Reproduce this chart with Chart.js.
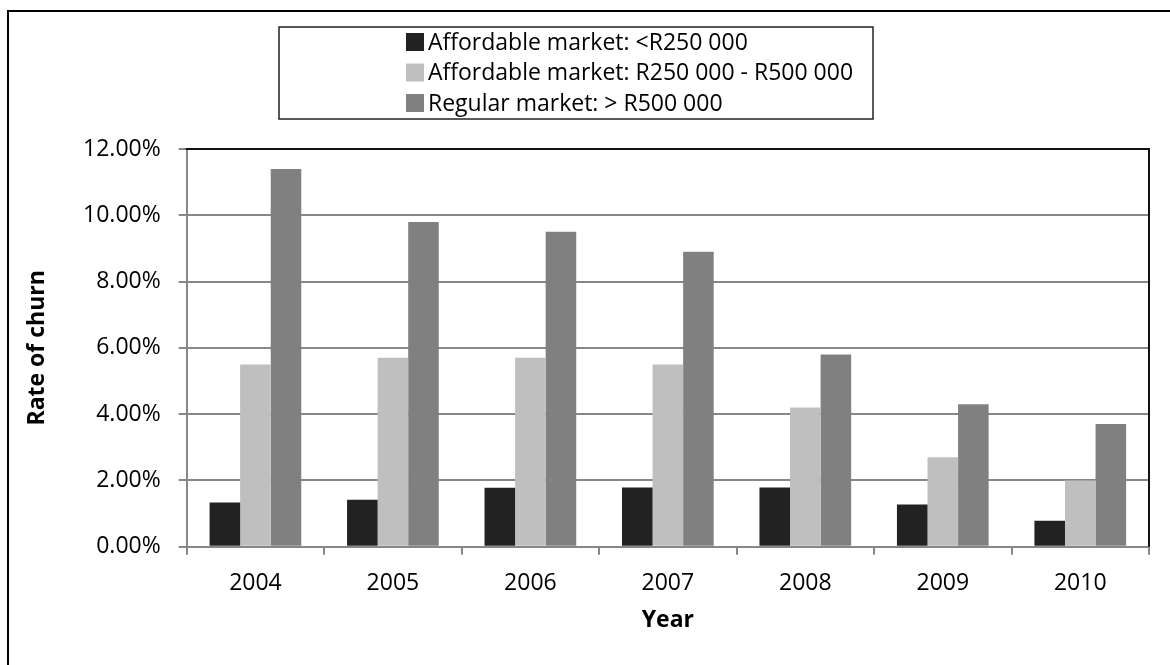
<!DOCTYPE html>
<html>
<head>
<meta charset="utf-8">
<title>Rate of churn by market segment</title>
<script src="https://cdn.jsdelivr.net/npm/chart.js@4/dist/chart.umd.min.js"></script>
<style>
    html, body { margin: 0; padding: 0; background: #fff; }
    #wrap { width: 1170px; height: 665px; position: relative; }
</style>
</head>
<body>
<div id="wrap"><canvas id="churnchart" width="1170" height="665"></canvas></div>
<script>
const years = ['2004', '2005', '2006', '2007', '2008', '2009', '2010'];
const seriesNames = ['Affordable market: <R250 000', 'Affordable market: R250 000 - R500 000', 'Regular market: > R500 000'];
const lowEnd = [1.33, 1.42, 1.78, 1.79, 1.79, 1.27, 0.78];
const midRange = [5.5, 5.7, 5.7, 5.5, 4.2, 2.7, 2.0];
const regular = [11.4, 9.8, 9.5, 8.9, 5.8, 4.3, 3.7];
const yTicks = [0, 2, 4, 6, 8, 10, 12];
const barColors = ['#222222', '#bfbfbf', '#808080'];

const FONT = "'Open Sans', sans-serif";

// outer frame, black plot frame and boxed legend
const decorations = {
    id: 'decorations',
    beforeDraw(chart) {
        const ctx = chart.ctx;
        ctx.save();
        ctx.fillStyle = '#fff';
        ctx.fillRect(0, 0, chart.width, chart.height);
        ctx.strokeStyle = '#000';
        ctx.lineWidth = 2;
        ctx.beginPath();
        ctx.moveTo(8, chart.height + 5);
        ctx.lineTo(8, 11);
        ctx.lineTo(chart.width + 5, 11);
        ctx.stroke();
        ctx.restore();
    },
    afterDraw(chart) {
        const ctx = chart.ctx;
        const a = chart.chartArea;
        ctx.save();
        ctx.strokeStyle = '#111';
        ctx.lineWidth = 2;
        ctx.beginPath();
        ctx.moveTo(a.left - 1, a.top);
        ctx.lineTo(a.right, a.top);
        ctx.lineTo(a.right, a.bottom);
        ctx.stroke();

        // legend box
        ctx.lineWidth = 1.5;
        ctx.strokeStyle = '#222';
        ctx.strokeRect(279, 27, 594, 92);
        ctx.font = '23px ' + FONT;
        ctx.textBaseline = 'middle';
        ctx.textAlign = 'left';
        chart.data.datasets.forEach((ds, i) => {
            const y = 42 + i * 30.5;
            ctx.fillStyle = ds.backgroundColor;
            ctx.fillRect(406, y - 9, 18, 18);
            ctx.fillStyle = '#000';
            ctx.fillText(ds.label, 428, y + 1);
        });
        ctx.restore();
    }
};

const ctx = document.getElementById('churnchart').getContext('2d');
new Chart(ctx, {
    type: 'bar',
    data: {
        labels: years,
        datasets: [
            { label: seriesNames[0], data: lowEnd, backgroundColor: barColors[0] },
            { label: seriesNames[1], data: midRange, backgroundColor: barColors[1] },
            { label: seriesNames[2], data: regular, backgroundColor: barColors[2] }
        ]
    },
    options: {
        responsive: false,
        animation: false,
        devicePixelRatio: 1,
        categoryPercentage: 0.667,
        barPercentage: 1,
        layout: { padding: { top: 149, right: 21, left: 0, bottom: 0 } },
        plugins: {
            legend: { display: false },
            tooltip: { enabled: false }
        },
        scales: {
            x: {
                afterFit(scale) { scale.height = 118.3; },
                grid: { drawOnChartArea: false, drawTicks: true, tickLength: 8, color: '#878787', lineWidth: 2, offset: true },
                border: { color: '#878787', width: 2 },
                ticks: { color: '#000', font: { family: FONT, size: 23 }, padding: 15 },
                title: { display: true, text: 'Year', color: '#000', font: { family: FONT, size: 23, weight: 'bold' }, padding: { top: 0, bottom: 31 } }
            },
            y: {
                min: 0,
                max: 12,
                afterFit(scale) { scale.width = 186.7; },
                afterBuildTicks(scale) { scale.ticks = yTicks.map(v => ({ value: v })); },
                grid: { color: '#878787', lineWidth: 2, tickLength: 8 },
                border: { color: '#878787', width: 2 },
                ticks: {
                    color: '#000',
                    font: { family: FONT, size: 23 },
                    padding: 18,
                    callback: v => v.toFixed(2) + '%'
                },
                title: { display: true, text: 'Rate of churn', color: '#000', font: { family: FONT, size: 23, weight: 'bold' }, padding: { top: 24, bottom: 0 } }
            }
        }
    },
    plugins: [decorations]
});
</script>
</body>
</html>
